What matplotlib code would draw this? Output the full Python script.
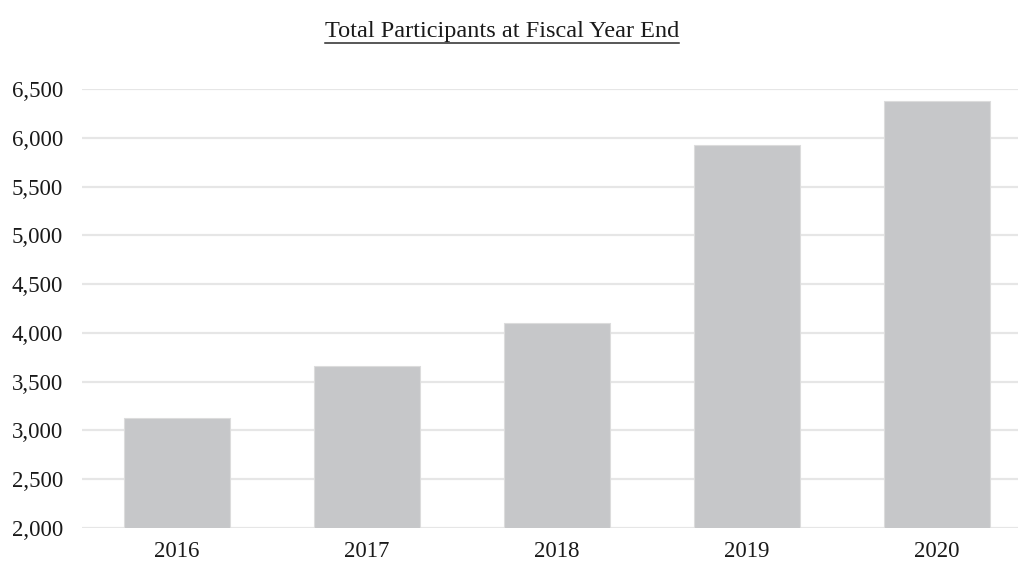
import numpy as np
import matplotlib.pyplot as plt
from matplotlib.lines import Line2D

# Total participants at fiscal year end
years = ["2016", "2017", "2018", "2019", "2020"]
participants = [3126, 3660, 4098, 5925, 6383]

y_ticks = [2000, 2500, 3000, 3500, 4000, 4500, 5000, 5500, 6000, 6500]

plt.rcParams['font.family'] = ['Liberation Serif', 'DejaVu Serif']

W, H = 1018, 561
fig = plt.figure(figsize=(W/100, H/100), dpi=100)

# plot area: left edge at x=82, runs off the right side of the picture
left, right = 82, 1018
bottom, top = 527.7, 89.3
ax = fig.add_axes([left/W, 1 - bottom/H, (right-left)/W, (bottom-top)/H])

x = np.arange(len(years))
ax.bar(x, participants, width=0.556, color='#c6c7c9', edgecolor='#dcdcdc',
       linewidth=0.8, zorder=3)

ax.set_ylim(2000, 6500)
ax.set_xlim(-0.5, -0.5 + (right-left)/190.0)
ax.set_yticks(y_ticks)
ax.set_yticklabels([f"{v:,}" for v in y_ticks])
ax.set_xticks(x)
ax.set_xticklabels(years)

ax.grid(axis='y', color='#e6e6e6', linewidth=1.6, zorder=0)
ax.set_axisbelow(True)
for s in ax.spines.values():
    s.set_visible(False)
ax.tick_params(axis='both', length=0, labelsize=16.5, colors='#1a1a1a')
ax.tick_params(axis='y', pad=13.5)
ax.tick_params(axis='x', pad=9.5)

title = fig.text(502/W, 1 - 37/H, "Total Participants at Fiscal Year End",
                 ha='center', va='baseline', fontsize=17.5, color='#1a1a1a')

# underline the title
fig.canvas.draw()
bb = title.get_window_extent(fig.canvas.get_renderer())
uy = 1 - 43/H
fig.add_artist(Line2D([bb.x0/W, bb.x1/W], [uy, uy], transform=fig.transFigure,
                      color='#2a2a2a', linewidth=1.1))

fig.savefig("out.png", dpi=100)
